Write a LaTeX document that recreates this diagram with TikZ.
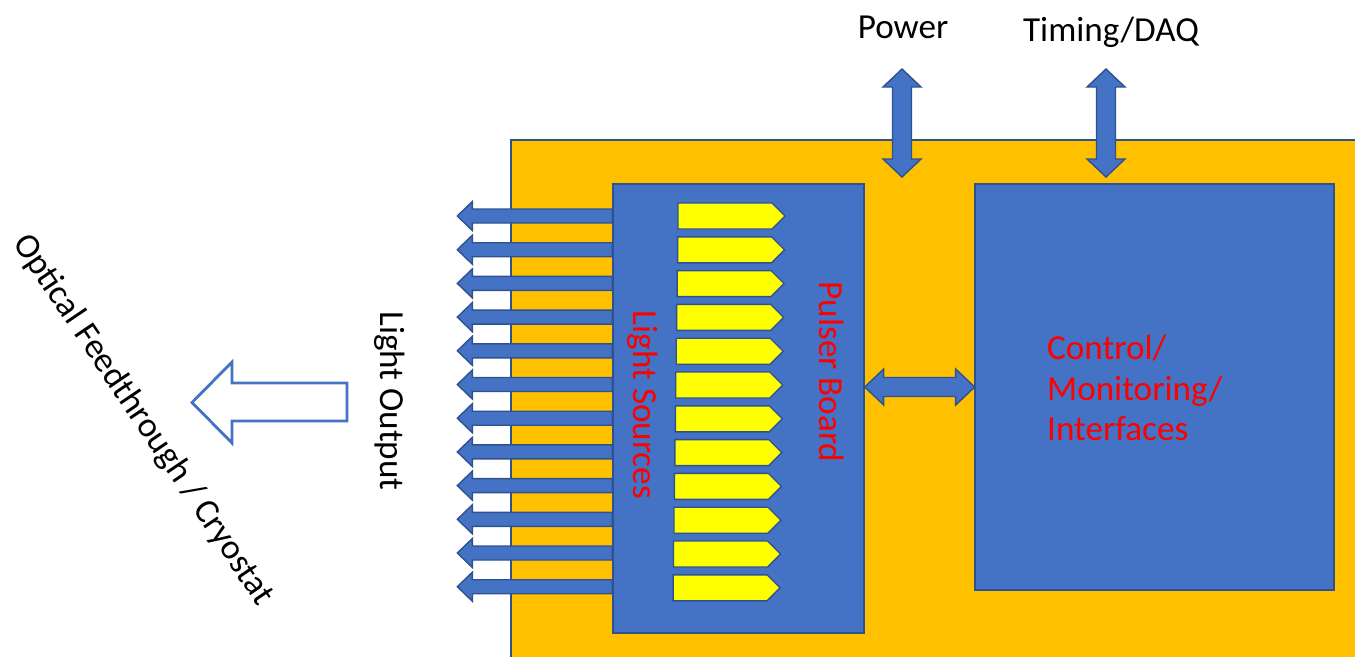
\documentclass[tikz,border=0pt]{standalone}
\usepackage{fontspec}
\setmainfont{Carlito}
\usetikzlibrary{calc}
\definecolor{boxblue}{HTML}{4472C4}
\definecolor{edgeblue}{HTML}{2F528F}
\definecolor{boardorange}{HTML}{FFC000}
\definecolor{ledyellow}{HTML}{FFFF00}

\begin{document}
\begin{tikzpicture}[
	x=0.02cm, y=-0.02cm,
	blk/.style={draw=edgeblue,fill=boxblue,line width=0.8pt,inner sep=0pt},
	fatarrow/.style={draw=edgeblue,fill=boxblue,line width=0.8pt},
	led/.style={draw=edgeblue,fill=ledyellow,line width=0.8pt},
	hollow/.style={draw=boxblue,fill=white,line width=1.6pt},
	lbl/.style={font=\fontsize{20}{23.2}\selectfont},
	redlbl/.style={lbl,text=red}
	]
	\useasboundingbox (0,0) rectangle (1355,657);
	% board
	\fill[boardorange] (511,140) rectangle (1355,657);
	\draw[edgeblue,line width=0.8pt] (511,657) -- (511,140) -- (1355,140);
	\node[blk,minimum width=5.02cm,minimum height=8.98cm] (pulser) at (738.5,408.5) {};
	\node[blk,minimum width=7.18cm,minimum height=8.12cm] (ctrl) at (1154.5,387) {};
	% light outputs
	\foreach \i in {0,...,11}{
		\pgfmathsetmacro\ya{216+33.7*\i}
		\draw[fatarrow] (pulser.west |- 0,\ya) -- ++(0,-7) -- ++(-140,0) -- ++(0,-7.5) -- ++(-15,14.5) -- ++(15,14.5) -- ++(0,-7.5) -- ++(140,0) -- cycle;
	}
	% light sources
	\foreach \i in {0,...,11}{
		\pgfmathsetmacro\yt{203+33.8*\i}
		\pgfmathsetmacro\xl{678-0.45*\i}
		\draw[led] (\xl,\yt) -- ++(94,0) -- ++(13,13) -- ++(-13,13) -- ++(-94,0) -- cycle;
	}
	% labels
	\node[lbl,anchor=base] (pwr) at (903,38) {Power};
	\node[lbl,anchor=base] (tdaq) at (1111,41) {Timing/DAQ};
	\node[lbl,rotate=-90] (lout) at (390,401) {Light Output};
	\node[redlbl,rotate=-90] (lsrc) at (643,405) {Light Sources};
	\node[redlbl,rotate=-90] (pb) at (832,372) {Pulser Board};
	\node[redlbl,align=left,anchor=west] (ctl) at (1041,388) {Control/\\Monitoring/\\Interfaces};
	\node[lbl,rotate=-56] (oft) at (143,420) {Optical Feedthrough / Cryostat};
	% power and timing links
	\foreach \n/\dx/\dy in {pwr/-1/31,tdaq/-5/28}{
		\draw[fatarrow] ($(\n.base)+(\dx,\dy)$) -- ++(19,18) -- ++(-9.5,0) -- ++(0,72) -- ++(9.5,0) -- ++(-19,18) -- ++(-19,-18) -- ++(9.5,0) -- ++(0,-72) -- ++(-9.5,0) -- cycle;
	}
	% pulser <-> control
	\draw[fatarrow] (pulser.east |- ctrl.west) -- ++(19,-18) -- ++(0,8.5) -- ++(72,0) -- ++(0,-8.5) -- ++(19,18) -- ++(-19,18) -- ++(0,-8.5) -- ++(-72,0) -- ++(0,8.5) -- cycle;
	% to feedthrough
	\draw[hollow] (347,383) -- (232,383) -- (232,362) -- (192,402.5) -- (232,443) -- (232,421) -- (347,421) -- cycle;
\end{tikzpicture}
\end{document}
